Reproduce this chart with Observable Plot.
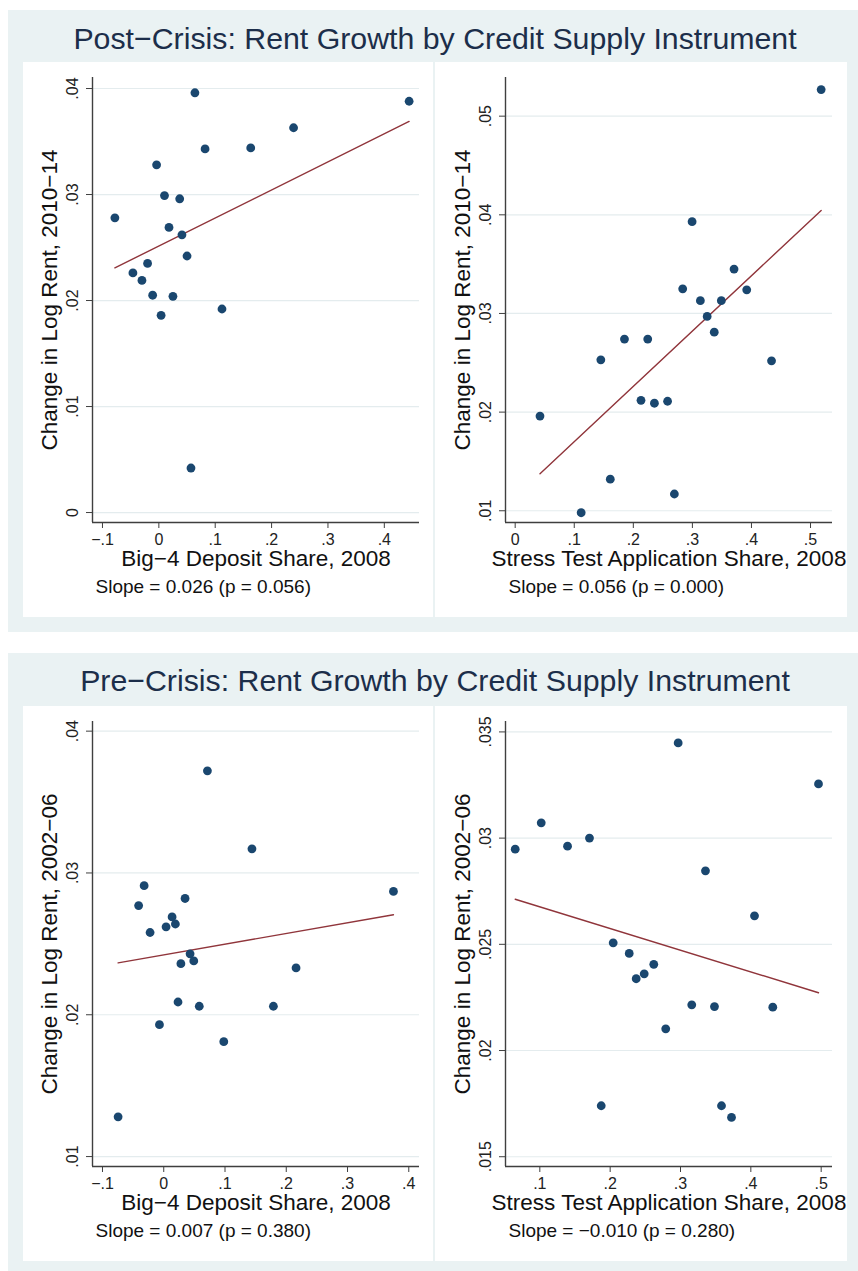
<!DOCTYPE html>
<html><head><meta charset="utf-8">
<script src="https://cdn.jsdelivr.net/npm/d3@7"></script>
<script src="https://cdn.jsdelivr.net/npm/@observablehq/plot@0.6"></script>
<style>
html,body{margin:0;padding:0;background:#fff;}
#page{position:relative;width:858px;height:1271px;overflow:hidden;background:#fff;font-family:'Liberation Sans',Arial,Helvetica,sans-serif;}
.panel{position:absolute;left:8px;width:850px;background:#eaf2f3;}
.title{position:absolute;left:23px;width:824px;text-align:center;font-size:30.3px;line-height:30px;color:#1c2e4a;white-space:nowrap;}
.inner{position:absolute;background:#fff;}
.inner svg{display:block;}
</style></head>
<body>
<div id="page">
  <div class="panel" style="top:10px;height:622px"></div>
  <div class="panel" style="top:653px;height:618px"></div>
  <div class="title" id="t1" style="top:23.6px"></div>
  <div class="title" id="t2" style="top:666.3px"></div>
  <div class="inner" id="tl" style="left:23px;top:62px;width:410px;height:555px"></div>
  <div class="inner" id="tr" style="left:435px;top:62px;width:412px;height:555px"></div>
  <div class="inner" id="bl" style="left:23px;top:706px;width:410px;height:555px"></div>
  <div class="inner" id="br" style="left:435px;top:706px;width:412px;height:555px"></div>
</div>
<script>
// ---------- data ----------
const panelTitles = [
  "Post\u2212Crisis: Rent Growth by Credit Supply Instrument",
  "Pre\u2212Crisis: Rent Growth by Credit Supply Instrument"
];

// Post-crisis, Big-4 deposit share
const postBig4X = [-0.078, 0.064, 0.444, 0.239, 0.082, 0.163, -0.004, 0.010, 0.037, 0.018, 0.041, 0.050, -0.046, -0.020, -0.030, -0.011, 0.025, 0.004, 0.112, 0.057];
const postBig4Y = [0.0278, 0.0396, 0.0388, 0.0363, 0.0343, 0.0344, 0.0328, 0.0299, 0.0296, 0.0269, 0.0262, 0.0242, 0.0226, 0.0235, 0.0219, 0.0205, 0.0204, 0.0186, 0.0192, 0.0042];
const postBig4FitX = [-0.078, 0.444];
const postBig4FitY = [0.02308, 0.03689];

// Post-crisis, stress test application share
const postStressX = [0.518, 0.2995, 0.3705, 0.2836, 0.392, 0.3135, 0.349, 0.325, 0.337, 0.185, 0.2244, 0.145, 0.434, 0.213, 0.2357, 0.258, 0.042, 0.161, 0.2695, 0.1117];
const postStressY = [0.0527, 0.0393, 0.0345, 0.0325, 0.0324, 0.0313, 0.0313, 0.0297, 0.0281, 0.0274, 0.0274, 0.0253, 0.0252, 0.0212, 0.0209, 0.0211, 0.0196, 0.0132, 0.0117, 0.0098];
const postStressFitX = [0.042, 0.518];
const postStressFitY = [0.01375, 0.04044];

// Pre-crisis, Big-4 deposit share
const preBig4X = [0.0713, 0.144, -0.032, 0.375, -0.041, 0.0348, 0.0136, 0.019, 0.0038, -0.0223, 0.043, 0.049, 0.028, 0.216, 0.0233, 0.058, 0.179, -0.007, 0.098, -0.0745];
const preBig4Y = [0.0372, 0.0317, 0.0291, 0.0287, 0.0277, 0.0282, 0.0269, 0.0264, 0.0262, 0.0258, 0.0243, 0.0238, 0.0236, 0.0233, 0.0209, 0.0206, 0.0206, 0.0193, 0.0181, 0.0128];
const preBig4FitX = [-0.0745, 0.375];
const preBig4FitY = [0.02366, 0.02705];

// Pre-crisis, stress test application share
const preStressX = [0.2967, 0.4962, 0.102, 0.065, 0.1394, 0.1706, 0.3355, 0.4052, 0.2043, 0.2271, 0.262, 0.2484, 0.237, 0.316, 0.3483, 0.4312, 0.279, 0.1873, 0.3583, 0.3725];
const preStressY = [0.03448, 0.03255, 0.03072, 0.02948, 0.02962, 0.0300, 0.02846, 0.02634, 0.02507, 0.02457, 0.02406, 0.02361, 0.02338, 0.02215, 0.02207, 0.02204, 0.02102, 0.0174, 0.0174, 0.01685];
const preStressFitX = [0.065, 0.4962];
const preStressFitY = [0.02712, 0.02272];

// tick values
const big4XTicks = [-0.1, 0, 0.1, 0.2, 0.3, 0.4];
const postBig4YTicks = [0, 0.01, 0.02, 0.03, 0.04];
const postStressXTicks = [0, 0.1, 0.2, 0.3, 0.4, 0.5];
const postStressYTicks = [0.01, 0.02, 0.03, 0.04, 0.05];
const preBig4YTicks = [0.01, 0.02, 0.03, 0.04];
const preStressXTicks = [0.1, 0.2, 0.3, 0.4, 0.5];
const preStressYTicks = [0.015, 0.02, 0.025, 0.03, 0.035];

// text labels
const xLabels = ["Big\u22124 Deposit Share, 2008", "Stress Test Application Share, 2008"];
const yLabels = ["Change in Log Rent, 2010\u221214", "Change in Log Rent, 2002\u221206"];
const slopeNotes = [
  "Slope = 0.026 (p = 0.056)",
  "Slope = 0.056 (p = 0.000)",
  "Slope = 0.007 (p = 0.380)",
  "Slope = \u22120.010 (p = 0.280)"
];

// ---------- styling ----------
const FONT = "'Liberation Sans', Arial, Helvetica, sans-serif";
const DOT = "#1a476f";
const FIT = "#90353b";
const GRID = "#e4ecee";
const AXIS = "#3f3f3f";

function fmt(v) {
  if (v === 0) return "0";
  let s = String(+v.toFixed(4));
  s = s.replace(/^(-?)0\./, "$1.");
  return s.replace("-", "\u2212");
}

function makePlot({xs, ys, fx, fy, xTicks, yTicks, xDomain, yDomain, width, marginLeft, marginRight, xLabel, yLabel, note}) {
  const data = xs.map((x, i) => ({x, y: ys[i]}));
  const fit = fx.map((x, i) => ({x, y: fy[i]}));
  return Plot.plot({
    width, height: 555,
    marginLeft, marginRight, marginTop: 15, marginBottom: 95,
    x: {domain: xDomain, nice: false},
    y: {domain: yDomain, nice: false},
    style: {fontFamily: FONT, fontSize: "16px", color: "#222", background: "transparent", overflow: "visible"},
    marks: [
      Plot.gridY(yTicks, {stroke: GRID, strokeOpacity: 1, strokeWidth: 1.2}),
      Plot.ruleX([xDomain[0]], {stroke: AXIS, strokeWidth: 1.4}),
      Plot.ruleY([yDomain[0]], {stroke: AXIS, strokeWidth: 1.4}),
      Plot.axisY(yTicks, {tickSize: 6, tickPadding: 9, tickRotate: -90, tickFormat: fmt, fontSize: 16, stroke: AXIS, label: null}),
      Plot.axisX(xTicks, {tickSize: 6, tickPadding: 5, tickFormat: fmt, fontSize: 16, stroke: AXIS, label: null}),
      Plot.text([yLabel], {frameAnchor: "left", rotate: -90, dx: -51, lineAnchor: "top", textAnchor: "middle", fontSize: 22.5, fill: "#111", text: d => d}),
      Plot.text([xLabel], {frameAnchor: "bottom", dy: 43, lineAnchor: "bottom", textAnchor: "middle", fontSize: 22.5, fill: "#111", text: d => d}),
      Plot.text([note], {frameAnchor: "bottom-left", dx: 3, dy: 70, lineAnchor: "bottom", textAnchor: "start", fontSize: 19, fill: "#111", text: d => d}),
      Plot.line(fit, {x: "x", y: "y", stroke: FIT, strokeWidth: 1.4}),
      Plot.dot(data, {x: "x", y: "y", r: 4.4, fill: DOT, stroke: null})
    ]
  });
}

document.getElementById("t1").textContent = panelTitles[0];
document.getElementById("t2").textContent = panelTitles[1];

document.getElementById("tl").append(makePlot({
  xs: postBig4X, ys: postBig4Y, fx: postBig4FitX, fy: postBig4FitY, xTicks: big4XTicks, yTicks: postBig4YTicks,
  xDomain: [-0.1177, 0.4624], yDomain: [-0.00094, 0.04104],
  width: 410, marginLeft: 69, marginRight: 14,
  xLabel: xLabels[0], yLabel: yLabels[0], note: slopeNotes[0]
}));
document.getElementById("tr").append(makePlot({
  xs: postStressX, ys: postStressY, fx: postStressFitX, fy: postStressFitY, xTicks: postStressXTicks, yTicks: postStressYTicks,
  xDomain: [-0.0164, 0.5372], yDomain: [0.00881, 0.05392],
  width: 412, marginLeft: 70, marginRight: 15,
  xLabel: xLabels[1], yLabel: yLabels[0], note: slopeNotes[1]
}));
document.getElementById("bl").append(makePlot({
  xs: preBig4X, ys: preBig4Y, fx: preBig4FitX, fy: preBig4FitY, xTicks: big4XTicks, yTicks: preBig4YTicks,
  xDomain: [-0.1163, 0.4175], yDomain: [0.0093, 0.04068],
  width: 410, marginLeft: 69, marginRight: 14,
  xLabel: xLabels[0], yLabel: yLabels[1], note: slopeNotes[2]
}));
document.getElementById("br").append(makePlot({
  xs: preStressX, ys: preStressY, fx: preStressFitX, fy: preStressFitY, xTicks: preStressXTicks, yTicks: preStressYTicks,
  xDomain: [0.0512, 0.5161], yDomain: [0.01454, 0.03549],
  width: 412, marginLeft: 70, marginRight: 15,
  xLabel: xLabels[1], yLabel: yLabels[1], note: slopeNotes[3]
}));
</script>
</body></html>
